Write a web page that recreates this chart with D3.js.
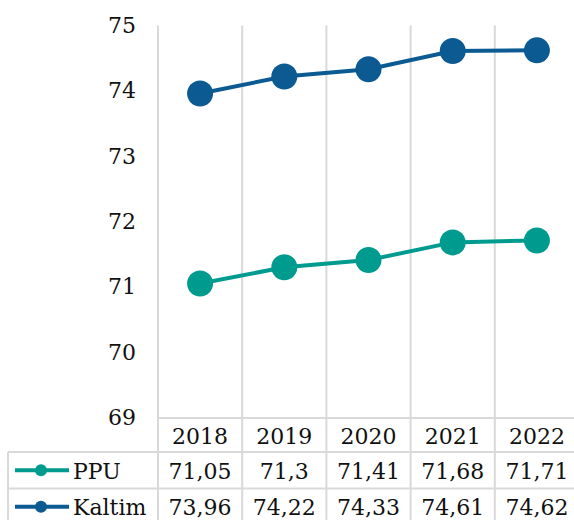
<!DOCTYPE html>
<html><head><meta charset="utf-8">
<script src="https://cdn.jsdelivr.net/npm/d3@7/dist/d3.min.js"></script>
<style>
html,body{margin:0;padding:0;background:#fff;overflow:hidden;}
text{font-family:"DejaVu Serif","Liberation Serif",serif;fill:#111;}
</style></head>
<body>
<svg id="chart" width="574" height="520"></svg>
<script>
const years = ["2018","2019","2020","2021","2022"];
const seriesNames = ["PPU","Kaltim"];
const ppuValues = [71.05, 71.3, 71.41, 71.68, 71.71];
const kaltimValues = [73.96, 74.22, 74.33, 74.61, 74.62];
const ppuLabels = ["71,05","71,3","71,41","71,68","71,71"];
const kaltimLabels = ["73,96","74,22","74,33","74,61","74,62"];
const yTicks = [69,70,71,72,73,74,75];
const colors = {PPU:"#009b8f", Kaltim:"#0b5b92"};

const series = [
  {name: seriesNames[0], values: ppuValues, labels: ppuLabels},
  {name: seriesNames[1], values: kaltimValues, labels: kaltimLabels}
];

const svg = d3.select("#chart");
const fs = 22;
const gridColor = "#d9d9d9";

const x = d3.scaleBand().domain(years).range([158, 579]);
const y = d3.scaleLinear().domain([69, 75]).range([417.5, 25.5]);

const headerTop = 418, headerBottom = 452, rowH = 36.5, tableLeft = 8;
const rowTop = i => headerBottom + i * rowH;

const bounds = years.map(d => x(d)).concat([x.range()[1]]);
svg.append("g").selectAll("line").data(bounds).join("line")
  .attr("x1", d => d).attr("x2", d => d)
  .attr("y1", y(75)).attr("y2", 520)
  .attr("stroke", gridColor).attr("stroke-width", 2);

svg.append("line").attr("x1", x.range()[0]).attr("x2", 579)
  .attr("y1", headerTop).attr("y2", headerTop)
  .attr("stroke", gridColor).attr("stroke-width", 2);
[0,1,2].forEach(i => {
  svg.append("line").attr("x1", tableLeft).attr("x2", 579)
    .attr("y1", rowTop(i)).attr("y2", rowTop(i))
    .attr("stroke", gridColor).attr("stroke-width", 2);
});
svg.append("line").attr("x1", tableLeft).attr("x2", tableLeft)
  .attr("y1", rowTop(0)).attr("y2", 520)
  .attr("stroke", gridColor).attr("stroke-width", 2);

const yAxis = d3.axisLeft(y).tickValues(yTicks).tickSize(0).tickPadding(0)
  .tickFormat(d3.format("d"));
const ga = svg.append("g").attr("transform", "translate(136,0)").call(yAxis);
ga.select(".domain").remove();
ga.selectAll("text").attr("font-size", fs).style("font-family", "DejaVu Serif").attr("fill", "#111");

const line = d3.line().x((d, i) => x(years[i]) + x.bandwidth() / 2).y(d => y(d));
series.forEach(s => {
  svg.append("path").datum(s.values).attr("d", line)
    .attr("fill", "none").attr("stroke", colors[s.name]).attr("stroke-width", 4);
  svg.append("g").selectAll("circle").data(s.values).join("circle")
    .attr("cx", (d, i) => x(years[i]) + x.bandwidth() / 2)
    .attr("cy", d => y(d)).attr("r", 13).attr("fill", colors[s.name]);
});

svg.append("g").selectAll("text").data(years).join("text")
  .attr("x", d => x(d) + x.bandwidth() / 2)
  .attr("y", (headerTop + headerBottom) / 2 + 1)
  .attr("text-anchor", "middle").attr("dominant-baseline", "central")
  .attr("font-size", fs).text(d => d);

series.forEach((s, r) => {
  const cy = rowTop(r) + rowH / 2;
  svg.append("line").attr("x1", 15).attr("x2", 69).attr("y1", cy).attr("y2", cy)
    .attr("stroke", colors[s.name]).attr("stroke-width", 4);
  svg.append("circle").attr("cx", 41).attr("cy", cy).attr("r", 6).attr("fill", colors[s.name]);
  svg.append("text").attr("x", 73).attr("y", cy + 1)
    .attr("dominant-baseline", "central").attr("font-size", fs).text(s.name);
  svg.append("g").selectAll("text").data(s.labels).join("text")
    .attr("x", (d, i) => x(years[i]) + x.bandwidth() / 2)
    .attr("y", cy + 1)
    .attr("text-anchor", "middle").attr("dominant-baseline", "central")
    .attr("font-size", fs).text(d => d);
});
</script>
</body></html>
